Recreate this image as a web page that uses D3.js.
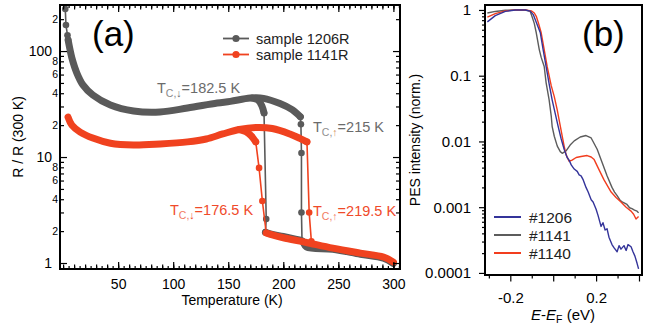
<!DOCTYPE html>
<html><head><meta charset="utf-8">
<script src="https://cdn.jsdelivr.net/npm/d3@7"></script>
<style>
body{margin:0;background:#fff}
svg{display:block;font-family:"Liberation Sans",Arial,sans-serif}
</style>
</head><body>
<svg id="c" width="657" height="329"></svg>
<script>
// ---------- Panel (a) data : [T (K), R/R(300K)] ----------
const tempTickLabels = [50, 100, 150, 200, 250, 300];
const rMajorTicks = [1, 10, 100];
const rLabeledMinor = [2, 4, 6, 8, 20, 40, 60, 80, 200];
const rUnlabeledMinor = [3, 5, 7, 9, 30, 50, 70, 90];

const s1206Start = [[2, 249], [2.6, 176], [4, 141], [4.6, 127]];
const s1206High = [[4.6, 127], [6.4, 102], [8, 86], [12.5, 62], [18, 48], [27, 38.5], [43, 31], [64, 27.2], [88, 26.6], [113, 29], [140, 32.3], [152, 33.5], [170, 36], [182, 35.8], [197, 32], [208, 28], [215.5, 24]];
const s1206CoolTop = [[172, 36], [177, 34.5], [180.5, 30.5], [182.5, 26]];
const s1206CoolJump = [[182.5, 26], [184.5, 2.6], [183.8, 1.95]];
const s1206HeatJump = [[215.5, 24], [216, 20.4], [216.5, 10.9], [216.5, 3.0], [217, 1.62]];
const s1206Low = [[183.8, 1.95], [190, 1.86], [200, 1.78], [210, 1.69], [217, 1.62], [221, 1.42], [245, 1.35], [270, 1.21], [291, 1.11], [300, 0.99]];

const s1141High = [[4.5, 23.8], [8, 20], [15.5, 17.2], [27, 15.1], [43, 13.5], [64, 13], [88, 13.3], [113, 13.9], [130, 14.8], [145, 16.5], [160, 18.2], [175, 19], [190, 18.6], [206, 16.5], [215, 15], [221.5, 13.9]];
const s1141CoolTop = [[160, 18.2], [166, 17.4], [171, 15.8], [175, 13.9]];
const s1141CoolJump = [[175, 13.9], [178, 7.9], [181, 3.85], [184.5, 1.92]];
const s1141HeatJump = [[221.5, 13.9], [223.5, 3.0], [225.5, 1.6]];
const s1141Low = [[184.5, 1.92], [190, 1.84], [200, 1.73], [220, 1.57], [245, 1.38], [270, 1.24], [291, 1.14], [300, 1.02]];

// ---------- Panel (b) data : E-EF (eV), PES intensity (norm.) ----------
const energyTickLabels = ["-0.2", "0.2"];
const pesDecadeTicks = [1, 0.1, 0.01, 0.001, 0.0001];
const pesDecadeLabels = ["1", "0.1", "0.01", "0.001", "0.0001"];

const e1141 = [-0.307, -0.270, -0.223, -0.177, -0.130, -0.107, -0.098, -0.088, -0.079, -0.065, -0.056, -0.042, -0.033, -0.019, -0.009, -0.005, 0.005, 0.019, 0.033, 0.042, 0.060, 0.079, 0.098, 0.126, 0.153, 0.177, 0.205, 0.228, 0.251, 0.274, 0.286, 0.298, 0.310, 0.321, 0.333, 0.344, 0.356, 0.367, 0.379, 0.391, 0.398];
const i1141 = [0.9, 0.95, 0.99, 1.0, 1.0, 0.95, 0.78, 0.62, 0.45, 0.25, 0.19, 0.138, 0.078, 0.043, 0.024, 0.017, 0.012, 0.0085, 0.007, 0.0066, 0.0072, 0.0088, 0.0102, 0.0117, 0.0123, 0.0113, 0.0076, 0.0048, 0.003, 0.002, 0.0017, 0.0015, 0.0013, 0.0012, 0.00115, 0.0011, 0.00098, 0.00095, 0.0009, 0.00087, 0.00082];

const e1140 = [-0.307, -0.270, -0.223, -0.177, -0.130, -0.102, -0.088, -0.079, -0.070, -0.056, -0.042, -0.028, -0.009, 0.005, 0.019, 0.028, 0.042, 0.051, 0.060, 0.074, 0.088, 0.107, 0.130, 0.158, 0.177, 0.191, 0.214, 0.237, 0.270, 0.293, 0.316, 0.340, 0.363, 0.375, 0.386, 0.398];
const i1140 = [0.78, 0.88, 0.97, 1.0, 1.0, 0.97, 0.9, 0.8, 0.65, 0.45, 0.25, 0.137, 0.07, 0.048, 0.03, 0.021, 0.012, 0.0085, 0.0063, 0.005, 0.0052, 0.0057, 0.0059, 0.0061, 0.0058, 0.0053, 0.0037, 0.0026, 0.0017, 0.0014, 0.0012, 0.001, 0.00087, 0.00078, 0.00066, 0.00072];

const e1206 = [-0.307, -0.270, -0.223, -0.177, -0.130, -0.107, -0.093, -0.079, -0.060, -0.047, -0.033, -0.019, -0.005, 0.009, 0.023, 0.037, 0.051, 0.065, 0.074, 0.084, 0.098, 0.112, 0.121, 0.130, 0.140, 0.153, 0.163, 0.177, 0.186, 0.200, 0.209, 0.223, 0.232, 0.242, 0.251, 0.260, 0.274, 0.284, 0.298, 0.307, 0.316, 0.330, 0.340, 0.349, 0.363, 0.372, 0.381, 0.391, 0.398];
const i1206 = [0.66, 0.82, 0.95, 1.0, 1.0, 0.96, 0.85, 0.65, 0.45, 0.25, 0.137, 0.075, 0.043, 0.027, 0.017, 0.011, 0.0076, 0.0057, 0.0052, 0.0044, 0.0038, 0.0035, 0.0031, 0.003, 0.0026, 0.002, 0.0017, 0.0013, 0.0012, 0.00093, 0.00075, 0.00051, 0.00058, 0.00045, 0.00047, 0.00035, 0.00027, 0.00024, 0.00021, 0.00026, 0.00023, 0.00026, 0.00022, 0.00027, 0.00025, 0.00021, 0.00018, 0.00014, 0.000115];

// ---------- styles ----------
const GRAY = "#5a5a5a", RED = "#f0421f", BLUE = "#34349a", GRAYB = "#5c5c5c", REDB = "#f23d1e";

const svg = d3.select("#c");

// ================= Panel (a) =================
const xA = d3.scaleLinear().domain([-2.8, 306]).range([60, 400]);
const yA = d3.scaleLog().domain([0.878, 272]).range([269, 5]);

const gA = svg.append("g");
const smooth = d3.line().x(d => xA(d[0])).y(d => yA(d[1])).curve(d3.curveCatmullRom.alpha(0.5));
const straight = d3.line().x(d => xA(d[0])).y(d => yA(d[1]));

function bandA(data, color) {
  gA.append("path").datum(data).attr("d", smooth).attr("fill", "none")
    .attr("stroke", color).attr("stroke-width", 7)
    .attr("stroke-linecap", "round").attr("stroke-linejoin", "round");
}
function jumpA(data, color, markers) {
  gA.append("path").datum(data).attr("d", straight).attr("fill", "none")
    .attr("stroke", color).attr("stroke-width", 1.6);
  gA.selectAll(null).data(markers ? data : []).enter().append("circle")
    .attr("cx", d => xA(d[0])).attr("cy", d => yA(d[1])).attr("r", 3.3).attr("fill", color);
}

// gray (1206R)
jumpA(s1206Start, GRAY, true);
bandA(s1206High, GRAY);
bandA(s1206CoolTop, GRAY);
jumpA(s1206CoolJump, GRAY, true);
jumpA(s1206HeatJump, GRAY, true);
bandA(s1206Low, GRAY);
// red (1141R)
bandA(s1141High, RED);
bandA(s1141CoolTop, RED);
jumpA(s1141CoolJump, RED, true);
jumpA(s1141HeatJump, RED, true);
bandA(s1141Low, RED);

// axes (a)
const minorT = d3.range(0, 306, 5);
const midT = d3.range(0, 306, 10);
function styleAxis(g) { g.select(".domain").remove(); g.selectAll(".tick line").attr("stroke", "#000").attr("stroke-width", 1.2); }
const fontAxis = g => g.selectAll("text").attr("fill", "#000").attr("font-family", "Liberation Sans, Arial, sans-serif");

gA.append("g").attr("transform", "translate(0,269)")
  .call(d3.axisBottom(xA).tickValues(minorT).tickSize(-3).tickFormat("")).call(styleAxis);
gA.append("g").attr("transform", "translate(0,269)")
  .call(d3.axisBottom(xA).tickValues(midT).tickSize(-4.5).tickFormat("")).call(styleAxis);
gA.append("g").attr("transform", "translate(0,269)")
  .call(d3.axisBottom(xA).tickValues(tempTickLabels).tickSize(-7).tickPadding(10).tickFormat(d3.format("d")))
  .call(styleAxis).call(fontAxis).call(g => g.selectAll("text").attr("font-size", 14));

gA.append("g").attr("transform", "translate(0,5)")
  .call(d3.axisTop(xA).tickValues(minorT).tickSize(-3).tickFormat("")).call(styleAxis);
gA.append("g").attr("transform", "translate(0,5)")
  .call(d3.axisTop(xA).tickValues(midT).tickSize(-4.5).tickFormat("")).call(styleAxis);
gA.append("g").attr("transform", "translate(0,5)")
  .call(d3.axisTop(xA).tickValues(tempTickLabels).tickSize(-7).tickFormat("")).call(styleAxis);

gA.append("g").attr("transform", "translate(60,0)")
  .call(d3.axisLeft(yA).tickValues(rMajorTicks).tickSize(-7).tickPadding(8).tickFormat(d3.format("d")))
  .call(styleAxis).call(fontAxis).call(g => g.selectAll("text").attr("font-size", 14));
gA.append("g").attr("transform", "translate(60,0)")
  .call(d3.axisLeft(yA).tickValues(rLabeledMinor).tickSize(-4).tickPadding(2).tickFormat(d => String(d).charAt(0)))
  .call(styleAxis).call(fontAxis).call(g => g.selectAll("text").attr("font-size", 10.5));
gA.append("g").attr("transform", "translate(60,0)")
  .call(d3.axisLeft(yA).tickValues(rUnlabeledMinor).tickSize(-4).tickFormat("")).call(styleAxis);

gA.append("g").attr("transform", "translate(400,0)")
  .call(d3.axisRight(yA).tickValues(rMajorTicks).tickSize(-7).tickFormat("")).call(styleAxis);
gA.append("g").attr("transform", "translate(400,0)")
  .call(d3.axisRight(yA).tickValues(rLabeledMinor.concat(rUnlabeledMinor)).tickSize(-4).tickFormat("")).call(styleAxis);

gA.append("rect").attr("x", 60).attr("y", 5).attr("width", 340).attr("height", 264)
  .attr("fill", "none").attr("stroke", "#000").attr("stroke-width", 2);

// labels (a)
gA.append("text").attr("x", 232).attr("y", 305).attr("text-anchor", "middle").attr("font-size", 14).text("Temperature (K)");
gA.append("text").attr("transform", "translate(23,137) rotate(-90)").attr("text-anchor", "middle").attr("font-size", 14).text("R / R (300 K)");
gA.append("text").attr("x", 92).attr("y", 46).attr("font-size", 35).text("(a)");

// legend (a)
const legA = [{name: "sample 1206R", c: GRAY, y: 38.5}, {name: "sample 1141R", c: RED, y: 54.5}];
legA.forEach(l => {
  gA.append("line").attr("x1", 223).attr("x2", 249).attr("y1", l.y).attr("y2", l.y).attr("stroke", l.c).attr("stroke-width", 1.8);
  gA.append("circle").attr("cx", 236).attr("cy", l.y).attr("r", 3.6).attr("fill", l.c);
  gA.append("text").attr("x", 256).attr("y", l.y + 5).attr("font-size", 14.5).attr("fill", "#222").text(l.name);
});

// annotations (a)
function tc(x, y, arrow, rest, col, subCol, arrowCol) {
  const t = gA.append("text").attr("x", x).attr("y", y).attr("font-size", 14.5).attr("fill", col);
  t.append("tspan").text("T");
  t.append("tspan").attr("dy", 4).attr("font-size", 10.5).attr("fill", subCol).text("C,");
  t.append("tspan").attr("font-size", 10.5).attr("fill", arrowCol).text(arrow);
  t.append("tspan").attr("dy", -4).text(rest);
}
tc(157, 93, "\u2193", "=182.5 K", "#6b6b6b", "#8a8a8a", "#6b6b6b");
tc(313, 132, "\u2191", "=215 K", "#6b6b6b", "#8f8f8f", "#d4925e");
tc(170, 215, "\u2193", "=176.5 K", "#f04a2a", "#f27b62", "#f04a2a");
tc(313, 216, "\u2191", "=219.5 K", "#f04a2a", "#f27b62", "#f27b62");

// ================= Panel (b) =================
const xB = d3.scaleLinear().domain([-0.318, 0.414]).range([485, 642]);
const yB = d3.scaleLog().domain([9.3e-5, 1.19]).range([275, 5]);
const gB = svg.append("g");

const lineB = d3.line().x(d => xB(d[0])).y(d => yB(d[1]));
const seriesB = [
  {name: "#1141", e: e1141, i: i1141, c: GRAYB},
  {name: "#1140", e: e1140, i: i1140, c: REDB},
  {name: "#1206", e: e1206, i: i1206, c: BLUE}
];
seriesB.forEach(s => {
  gB.append("path").datum(s.e.map((e, k) => [e, s.i[k]])).attr("d", lineB)
    .attr("fill", "none").attr("stroke", s.c).attr("stroke-width", 1.4).attr("stroke-linejoin", "round");
});

// axes (b)
const minorPes = [];
[1e-4, 1e-3, 1e-2, 1e-1].forEach(b => d3.range(2, 10).forEach(k => minorPes.push(b * k)));
gB.append("g").attr("transform", "translate(485,0)")
  .call(d3.axisLeft(yB).tickValues(minorPes).tickSize(3).tickFormat("")).call(styleAxis);
gB.append("g").attr("transform", "translate(485,0)")
  .call(d3.axisLeft(yB).tickValues(pesDecadeTicks).tickSize(6).tickPadding(8).tickFormat((d, k) => pesDecadeLabels[k]))
  .call(styleAxis).call(fontAxis).call(g => g.selectAll("text").attr("font-size", 15));

gB.append("g").attr("transform", "translate(0,275)")
  .call(d3.axisBottom(xB).tickValues([-0.3, -0.1, 0.1, 0.3]).tickSize(3.5).tickFormat("")).call(styleAxis);
gB.append("g").attr("transform", "translate(0,275)")
  .call(d3.axisBottom(xB).tickValues([-0.2, 0, 0.2, 0.4]).tickSize(6.5).tickPadding(11)
    .tickFormat(d => Math.abs(d + 0.2) < 1e-9 ? energyTickLabels[0] : Math.abs(d - 0.2) < 1e-9 ? energyTickLabels[1] : ""))
  .call(styleAxis).call(fontAxis).call(g => g.selectAll("text").attr("font-size", 15));

gB.append("rect").attr("x", 485).attr("y", 5).attr("width", 157).attr("height", 270)
  .attr("fill", "none").attr("stroke", "#000").attr("stroke-width", 2);

// labels (b)
gB.append("text").attr("transform", "translate(420,140) rotate(-90)").attr("text-anchor", "middle").attr("font-size", 14).text("PES intensity (norm.)");
const xl = gB.append("text").attr("x", 563).attr("y", 320).attr("text-anchor", "middle").attr("font-size", 15);
xl.append("tspan").attr("font-style", "italic").text("E");
xl.append("tspan").text("-");
xl.append("tspan").attr("font-style", "italic").text("E");
xl.append("tspan").attr("dy", 3).attr("font-size", 10.5).text("F");
xl.append("tspan").attr("dy", -3).text(" (eV)");
gB.append("text").attr("x", 582).attr("y", 46).attr("font-size", 35).text("(b)");

// legend (b)
const legB = [{name: "#1206", c: BLUE, y: 217}, {name: "#1141", c: GRAYB, y: 235}, {name: "#1140", c: REDB, y: 253}];
legB.forEach(l => {
  gB.append("line").attr("x1", 494).attr("x2", 521).attr("y1", l.y).attr("y2", l.y).attr("stroke", l.c).attr("stroke-width", 2);
  gB.append("text").attr("x", 529).attr("y", l.y + 5.5).attr("font-size", 15.5).attr("fill", "#222").text(l.name);
});
</script>
</body></html>
